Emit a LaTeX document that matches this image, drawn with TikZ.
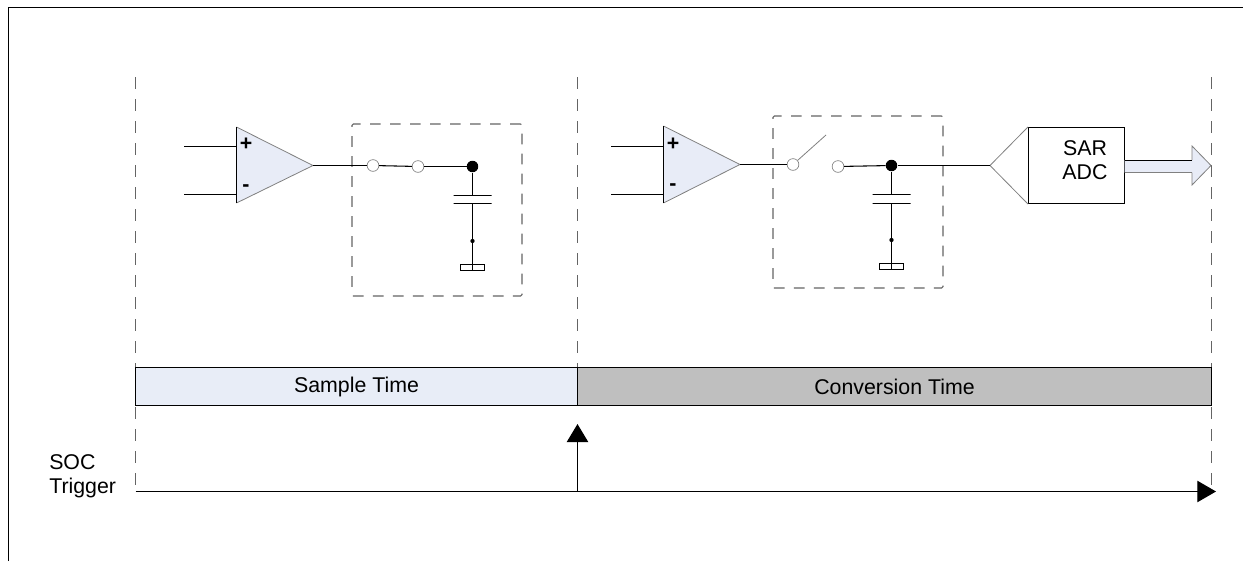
\documentclass[tikz,border=0pt]{standalone}
\usepackage{fontspec}
\setmainfont{Liberation Sans}
\usetikzlibrary{arrows.meta}
\usetikzlibrary{shapes.geometric}
\definecolor{paleblue}{RGB}{232,236,247}
\definecolor{barblue}{RGB}{232,237,247}
\definecolor{bargray}{RGB}{191,191,191}
\definecolor{edgegray}{RGB}{128,128,128}
\definecolor{dashgray}{RGB}{100,100,100}
\tikzstyle{timeline} = [draw=dashgray,dash pattern=on 9pt off 7.5pt,line width=0.85pt]
\tikzstyle{holdbox} = [rectangle,draw=dashgray,dash pattern=on 8pt off 7pt,line width=0.85pt,rounded corners=1pt,inner sep=0pt]
\tikzstyle{wire} = [draw=black,line width=0.8pt]
\tikzstyle{opencontact} = [circle,draw=edgegray,fill=white,minimum size=8.8pt,inner sep=0pt,line width=0.5pt]
\tikzstyle{bigdot} = [circle,fill=black,minimum size=8.6pt,inner sep=0pt]
\tikzstyle{smalldot} = [circle,fill=black,minimum size=3.2pt,inner sep=0pt]
\tikzstyle{plate} = [rectangle,draw=black,minimum width=28.5pt,minimum height=0pt,inner sep=0pt,line width=0.8pt]
\tikzstyle{groundbar} = [rectangle,draw=black,fill=white,minimum width=18pt,minimum height=4.5pt,inner sep=0pt,line width=0.7pt]
\tikzstyle{timebar} = [rectangle,draw=black,minimum height=28.5pt,inner sep=0pt,line width=0.8pt,font=\fontsize{16}{19}\selectfont]
\tikzstyle{label} = [inner sep=0pt,font=\fontsize{16}{18}\selectfont]
\tikzstyle{sign} = [inner sep=0pt,font=\fontsize{16}{18}\selectfont\bfseries]

\begin{document}
\begin{tikzpicture}[x=0.75pt,y=-0.75pt]
\useasboundingbox (0,0) rectangle (1243,561);

\coordinate (framea) at (8.5,561);
\coordinate (frameb) at (8.5,7.5);
\coordinate (framec) at (1243,7.5);
\draw [wire, line width=1pt] (framea) -- (frameb) -- (framec);

\coordinate (lefttop) at (135.5,77);
\coordinate (leftend) at (135.5,491.5);
\coordinate (midtop) at (577.5,77);
\coordinate (midend) at (577.5,405);
\coordinate (righttop) at (1211.5,77);
\coordinate (rightend) at (1211.5,491.5);
\draw [timeline] (lefttop) -- (leftend);
\draw [timeline] (midtop) -- (midend);
\draw [timeline] (righttop) -- (rightend);

\node (lhold) [holdbox, minimum width=127.5pt, minimum height=129pt] at (437,210) {};
\node (rhold) [holdbox, minimum width=127.5pt, minimum height=129pt] at (858,202) {};

% sampling side
\coordinate (lamptop) at (236.5,127);
\coordinate (lampbot) at (236.5,203);
\coordinate (lampout) at (313,165.5);
\fill [paleblue] (lamptop) -- (lampout) -- (lampbot) -- cycle;
\draw [draw=edgegray, line width=0.6pt] (lamptop) -- (lampout) -- (lampbot);
\draw [wire] (lamptop) -- (lampbot);
\coordinate (lplusin) at (184,146.5);
\coordinate (lplus) at (236.5,146.5);
\coordinate (lminusin) at (184,194.5);
\coordinate (lminus) at (236.5,194.5);
\draw [wire] (lplusin) -- (lplus);
\draw [wire] (lminusin) -- (lminus);
\node (lplussign) [sign] at (246,144) {+};
\node (lminussign) [sign] at (246,188) {-};

\node (lconta) [opencontact] at (373,165.5) {};
\node (lcontb) [opencontact] at (418,166.5) {};
\node (ldot) [bigdot] at (472.5,166.5) {};
\node (lplatea) [plate] at (472.5,195.5) {};
\node (lplateb) [plate] at (472.5,203.5) {};
\node (lgnd) [groundbar] at (472.5,267) {};
\node (lsmall) [smalldot] at (472.5,241) {};
\draw [wire] (lampout) -- (lconta);
\draw [wire] (lconta) -- (lcontb);
\draw [wire] (lcontb) -- (ldot);
\draw [wire] (ldot) -- (lplatea);
\draw [wire] (lplateb) -- (lgnd.south);

% conversion side
\coordinate (ramptop) at (663.5,126);
\coordinate (rampbot) at (663.5,203);
\coordinate (rampout) at (740,164.5);
\fill [paleblue] (ramptop) -- (rampout) -- (rampbot) -- cycle;
\draw [draw=edgegray, line width=0.6pt] (ramptop) -- (rampout) -- (rampbot);
\draw [wire] (ramptop) -- (rampbot);
\coordinate (rplusin) at (611,146.5);
\coordinate (rplus) at (663.5,146.5);
\coordinate (rminusin) at (611,194.5);
\coordinate (rminus) at (663.5,194.5);
\draw [wire] (rplusin) -- (rplus);
\draw [wire] (rminusin) -- (rminus);
\node (rplussign) [sign] at (673,144) {+};
\node (rminussign) [sign] at (673,187) {-};

\node (rconta) [opencontact] at (793,164.5) {};
\node (rcontb) [opencontact] at (838,166.5) {};
\node (rdot) [bigdot] at (891.5,165.5) {};
\node (rplatea) [plate] at (891.5,194.5) {};
\node (rplateb) [plate] at (891.5,203.5) {};
\node (rgnd) [groundbar] at (891.5,266) {};
\node (rsmall) [smalldot] at (891.5,240) {};
\coordinate (leverend) at (826,135);
\draw [wire] (rampout) -- (rconta);
\draw [draw=edgegray, line width=0.6pt] (rconta) -- (leverend);
\draw [wire] (rcontb) -- (rdot);
\draw [wire] (rdot) -- (rplatea);
\draw [wire] (rplateb) -- (rgnd.south);

\coordinate (adctip) at (990,165.5);
\node (adc) [rectangle, draw=black, line width=0.8pt, minimum width=72pt, minimum height=57pt, inner sep=0pt] at (1076.5,165.5) {};
\node (adctext) [label, align=center] at (1085,160) {SAR\\ADC};
\draw [draw=edgegray, line width=0.6pt] (adc.north west) -- (adctip) -- (adc.south west);
\draw [wire] (rdot) -- (adctip);

\coordinate (busa) at (1124.5,160);
\coordinate (busb) at (1192,160);
\coordinate (busc) at (1192,146);
\coordinate (busd) at (1211,165.5);
\coordinate (buse) at (1192,185);
\coordinate (busf) at (1192,172.5);
\coordinate (busg) at (1124.5,172.5);
\fill [paleblue] (busa) -- (busb) -- (busc) -- (busd) -- (buse) -- (busf) -- (busg) -- cycle;
\draw [draw=edgegray, line width=0.6pt] (busb) -- (busc) -- (busd) -- (buse) -- (busf);
\draw [draw=black, line width=0.7pt] (busa) -- (busb);
\draw [draw=edgegray, line width=0.7pt] (busg) -- (busf);

% time bars
\node (samplebar) [timebar, fill=barblue, minimum width=331.5pt] at (356.5,386.5) {\raisebox{-1.2pt}{Sample Time}};
\node (convbar) [timebar, fill=bargray, minimum width=475.5pt] at (894.5,386.5) {\raisebox{-1.2pt}{Conversion Time}};

% trigger
\node (soc) [label, align=left, anchor=west] at (49,476.5) {SOC\\Trigger};
\coordinate (axisend) at (1216,491.5);
\coordinate (trigbase) at (577.5,491.5);
\coordinate (trigtip) at (577.5,424);
\draw [wire, -{Triangle[length=14pt,width=16pt]}] (leftend) -- (axisend);
\draw [wire, -{Triangle[length=13.5pt,width=16pt]}] (trigbase) -- (trigtip);
\end{tikzpicture}
\end{document}
